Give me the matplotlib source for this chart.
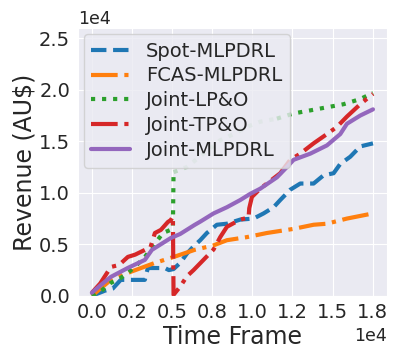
import numpy as np
import matplotlib
matplotlib.use("Agg")
import matplotlib.pyplot as plt
import seaborn as sns
from matplotlib.ticker import ScalarFormatter, MultipleLocator

sns.set_style("darkgrid")
plt.rcParams['font.family'] = ['DejaVu Sans']

# time frame positions and cumulative revenue (AU$)
x_spot = [0, 810, 1300, 1800, 3300, 3490, 4550, 4800, 5091, 5507, 5923, 6338, 6754, 7169,
          7793, 8416, 9248, 10079, 10702, 11325, 11741, 12365, 12988, 13819, 14442, 15066,
          15481, 16104, 16728, 17520]
y_spot = [0, 500, 700, 1550, 1550, 2700, 2700, 2500, 2600, 3200, 4100, 4800, 5400, 6100,
          6900, 7000, 7400, 7500, 8000, 8600, 9300, 10300, 10900, 10900, 11700, 11900,
          12800, 13500, 14500, 14800]

x_fcas = [0, 1185, 2245, 3930, 5110, 6400, 7585, 8416, 9663, 10910, 12572, 13819,
          14650, 15897, 17520]
y_fcas = [0, 1550, 2230, 3200, 3780, 4460, 4900, 5400, 5700, 6100, 6500, 6900,
          7000, 7500, 8000]

x_lpo = [0, 600, 1185, 1766, 2245, 2800, 3305, 3900, 4430, 5050, 5091, 5923, 6962, 8001,
         8832, 9663, 10494, 11533, 12572, 13611, 14650, 15689, 16728, 17520]
y_lpo = [0, 500, 1260, 1700, 2230, 3000, 3780, 5000, 6100, 6500, 12000, 12500, 13800,
         15100, 15700, 16400, 16900, 17200, 17700, 18000, 18300, 18600, 19100, 19700]

x_tpo = [0, 520, 1185, 1700, 2245, 2700, 3305, 3650, 3930, 4300, 4740, 4925, 5050, 5091,
         5507, 5923, 6338, 6962, 7585, 8001, 8416, 9248, 9767, 9809, 9975, 10494, 11325,
         11741, 12365, 12988, 13819, 14650, 15274, 15897, 16728, 17520]
y_tpo = [300, 1200, 2800, 3000, 3780, 4000, 4460, 4700, 6100, 6400, 7170, 7360, 7700, 100,
         900, 1900, 2500, 3500, 4500, 5700, 6700, 7400, 7600, 8500, 9600, 10400, 11400,
         11900, 13200, 13800, 14800, 15700, 16400, 17400, 18600, 19600]

x_mlp = [0, 520, 1185, 2245, 3305, 3740, 4925, 5500, 6400, 6754, 7585, 8416, 9248,
         9871, 10494, 11533, 12156, 12572, 13611, 14650, 15481, 15897, 16728, 17520]
y_mlp = [300, 1000, 1840, 2710, 3490, 4460, 5620, 6000, 6880, 7200, 8000, 8600,
         9300, 9900, 10400, 11500, 12500, 13200, 13800, 14600, 15700, 16700, 17500, 18100]


class OneDecimal(ScalarFormatter):
    def _set_format(self):
        self.format = '%1.1f'


fig = plt.figure(figsize=(3.99, 3.63), dpi=100)
ax = fig.add_axes([0.195, 0.185, 0.775, 0.738])

lw = 3
ax.plot(x_spot, y_spot, '--', color='tab:blue', lw=lw, label='Spot-MLPDRL')
ax.plot(x_fcas, y_fcas, '-.', color='tab:orange', lw=lw, label='FCAS-MLPDRL')

# the LP&O line is drawn pale between the jump and ~1.15e4 in the source
x_lpo = np.array(x_lpo, dtype=float)
y_lpo = np.array(y_lpo, dtype=float)
pale = (x_lpo > 5091) & (x_lpo < 11533)
y_main = np.where(pale, np.nan, y_lpo)
ax.plot(x_lpo, y_main, ':', color='tab:green', lw=lw, label='Joint-LP&O')
seg = (x_lpo >= 5091) & (x_lpo <= 11533)
ax.plot(x_lpo[seg], y_lpo[seg], ':', color='tab:green', lw=lw, alpha=0.25)

ax.plot(x_tpo, y_tpo, '-.', color='tab:red', lw=lw, label='Joint-TP&O')
ax.plot(x_mlp, y_mlp, '-', color='tab:purple', lw=lw, label='Joint-MLPDRL')

ax.set_ylim(0, 26000)
ax.xaxis.set_major_locator(MultipleLocator(2500))
ax.yaxis.set_major_locator(MultipleLocator(5000))
fmt = OneDecimal(useMathText=False)
fmt.set_powerlimits((0, 0))
ax.xaxis.set_major_formatter(fmt)
fmty = OneDecimal(useMathText=False)
fmty.set_powerlimits((0, 0))
ax.yaxis.set_major_formatter(fmty)

ax.tick_params(axis='both', labelsize=14, pad=2)
ax.xaxis.get_offset_text().set_fontsize(12.5)
ax.yaxis.get_offset_text().set_fontsize(12.5)
ax.set_xlabel('Time Frame', fontsize=17, labelpad=2)
ax.set_ylabel('Revenue (AU$)', fontsize=17, labelpad=2)

ax.legend(loc='upper left', fontsize=14, frameon=True, borderaxespad=0.3,
          handlelength=2.0, labelspacing=0.3)

fig.savefig('out.png', dpi=100)
